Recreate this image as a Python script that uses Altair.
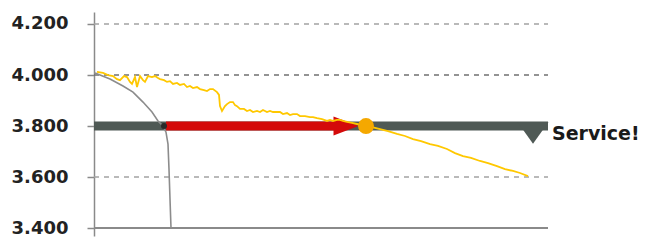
import altair as alt
import pandas as pd

# time units along x (0..454), values on y
yellow_t = [3, 9, 14, 19, 23, 26, 30, 33, 36, 38, 41, 43, 46, 49, 51, 54, 58, 61, 64, 66,
            70, 73, 76, 79, 83, 86, 90, 93, 96, 99, 103, 106, 110, 113, 116, 119, 123, 125, 126, 128,
            131, 133, 136, 139, 141, 143, 146, 150, 153, 156, 159, 163, 166, 169, 173, 176, 179, 183, 186, 189,
            193, 196, 199, 203, 206, 211, 216, 219, 223, 228, 233, 236, 239, 243, 246, 249, 253, 258, 263, 268,
            272, 278, 286, 294, 303, 311, 319, 327, 336, 344, 353, 361, 369, 377, 386, 394, 403, 411, 419, 426,
            434]
yellow_v = [4.012, 4.008, 4.000, 3.996, 3.984, 3.980, 3.996, 3.992, 3.973, 3.965, 3.992, 3.953, 3.996, 3.980, 3.973, 3.996, 3.992, 3.996, 3.988, 3.984,
            3.980, 3.973, 3.976, 3.965, 3.969, 3.961, 3.965, 3.953, 3.957, 3.949, 3.953, 3.945, 3.941, 3.937, 3.945, 3.945, 3.933, 3.922, 3.878, 3.859,
            3.878, 3.886, 3.894, 3.894, 3.882, 3.878, 3.867, 3.867, 3.859, 3.863, 3.855, 3.859, 3.855, 3.863, 3.855, 3.859, 3.855, 3.855, 3.855, 3.847,
            3.851, 3.843, 3.847, 3.847, 3.839, 3.839, 3.835, 3.835, 3.831, 3.827, 3.820, 3.824, 3.820, 3.824, 3.824, 3.820, 3.816, 3.812, 3.808, 3.804,
            3.800, 3.796, 3.788, 3.780, 3.769, 3.761, 3.749, 3.741, 3.729, 3.722, 3.710, 3.694, 3.682, 3.675, 3.663, 3.655, 3.643, 3.631, 3.624, 3.616,
            3.604]

gray_t = [1, 16, 29, 39, 49, 58, 64, 69, 72, 74, 75, 76, 77]
gray_v = [4.008, 3.984, 3.957, 3.933, 3.894, 3.855, 3.820, 3.800, 3.776, 3.729, 3.631, 3.514, 3.400]

tick_values = [3.4, 3.6, 3.8, 4.0, 4.2]
grid_values = [3.6, 4.0, 4.2]
base_value = 3.4
limit_value = 3.8
limit_start, limit_end = 0, 454
arrow_start, arrow_end, arrow_head = 72, 241, 252
meet_t = 272
cross_t = 70
service_t, service_v = 439, 3.773
label_t, label_v = 458, 3.77
label_text = "Service!"

x_scale = alt.Scale(domain=[0, 454], nice=False, zero=False)
y_scale = alt.Scale(domain=[3.369, 4.247], nice=False, zero=False)

y_axis = alt.Axis(
    values=tick_values, format=".3f", title=None,
    labelFont="DejaVu Sans", labelFontWeight="bold", labelFontSize=18, labelColor="#222222",
    labelPadding=19, tickSize=7, tickColor="#8a8a8a", tickWidth=1.5,
    domainColor="#8a8a8a", domainWidth=1.5,
    grid=False,
)

def X(field="t"):
    return alt.X(f"{field}:Q", scale=x_scale, axis=None)

def Y(field="v"):
    return alt.Y(f"{field}:Q", scale=y_scale, axis=y_axis)

grid_df = pd.DataFrame({"t": [limit_start] * len(grid_values), "t2": [limit_end] * len(grid_values),
                        "v": grid_values, "dark": [v == 4.0 for v in grid_values]})
grid = alt.Chart(grid_df).mark_rule(strokeWidth=1.5, strokeDash=[5, 5]).encode(
    x=X(), x2="t2:Q", y=Y(),
    color=alt.condition("datum.dark", alt.value("#707070"), alt.value("#a3a3a3")))

base_df = pd.DataFrame({"t": [limit_start], "t2": [limit_end], "v": [base_value]})
base = alt.Chart(base_df).mark_rule(strokeWidth=2, color="#8a8a8a").encode(
    x=X(), x2="t2:Q", y=Y())

bar_df = pd.DataFrame({"t": [limit_start], "t2": [limit_end], "v": [limit_value]})
bar = alt.Chart(bar_df).mark_rule(color="#4f5955", strokeWidth=9).encode(
    x=X(), x2="t2:Q", y=Y())

tri_df = pd.DataFrame({"t": [service_t], "v": [service_v]})
tri = alt.Chart(tri_df).mark_point(
    shape="M-1,-0.7L1,-0.7L0,0.7Z", filled=True, size=961, color="#4f5955", opacity=1
).encode(x=X(), y=Y())

shaft_df = pd.DataFrame({"t": [arrow_start], "t2": [arrow_end], "v": [limit_value]})
shaft = alt.Chart(shaft_df).mark_rule(color="#d40a0a", strokeWidth=9).encode(
    x=X(), x2="t2:Q", y=Y())

head_df = pd.DataFrame({"t": [arrow_head], "v": [limit_value]})
head = alt.Chart(head_df).mark_point(
    shape="M-1,-0.76L1,0L-1,0.76Z", filled=True, size=625, color="#d40a0a", opacity=1
).encode(x=X(), y=Y())

gray_df = pd.DataFrame({"t": gray_t, "v": gray_v, "i": list(range(len(gray_t)))})
gray = alt.Chart(gray_df).mark_line(color="#8c8c8c", strokeWidth=1.6).encode(
    x=X(), y=Y(), order="i:Q")

yellow_df = pd.DataFrame({"t": yellow_t, "v": yellow_v, "i": list(range(len(yellow_t)))})
yellow = alt.Chart(yellow_df).mark_line(color="#ffc800", strokeWidth=1.8).encode(
    x=X(), y=Y(), order="i:Q")

dot_df = pd.DataFrame({"t": [cross_t], "v": [limit_value]})
dot = alt.Chart(dot_df).mark_point(filled=True, size=36, color="#2a2a2a", opacity=1).encode(
    x=X(), y=Y())

circ_df = pd.DataFrame({"t": [meet_t], "v": [limit_value]})
circ = alt.Chart(circ_df).mark_point(filled=True, size=254, color="#f5a800", opacity=1).encode(
    x=X(), y=Y())

txt_df = pd.DataFrame({"t": [label_t], "v": [label_v], "s": [label_text]})
txt = alt.Chart(txt_df).mark_text(
    font="DejaVu Sans", fontWeight="bold", fontSize=19, color="#1a1a1a",
    align="left", baseline="middle"
).encode(x=X(), y=Y(), text="s:N")

chart = alt.layer(grid, base, bar, tri, shaft, head, gray, yellow, dot, circ, txt).properties(
    width=454, height=224,
    padding={"left": 86, "top": 4, "right": 93, "bottom": 6},
    autosize=alt.AutoSizeParams(type="none"),
).configure_view(stroke=None)

chart.save("out.html", embed_options={"renderer": "svg", "actions": False})
